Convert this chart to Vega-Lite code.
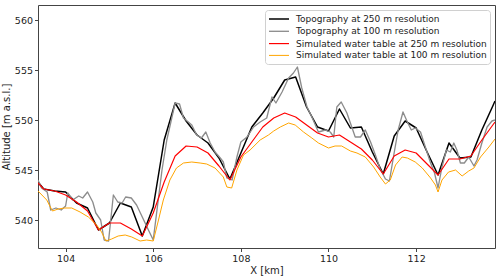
{
  "$schema": "https://vega.github.io/schema/vega-lite/v6.json",
  "width": 457,
  "height": 243,
  "autosize": {"type": "none"},
  "padding": {"left": 38, "top": 5, "right": 5, "bottom": 28},
  "background": "white",
  "config": {
    "font": "DejaVu Sans",
    "view": {"stroke": "#444", "strokeWidth": 1},
    "axis": {
      "grid": false,
      "domain": false,
      "tickColor": "#444",
      "tickSize": 3.5,
      "labelFontSize": 9.5,
      "labelColor": "#222",
      "titleFontSize": 10,
      "titleFontWeight": "normal",
      "titleColor": "#222",
      "labelPadding": 2
    }
  },
  "datasets": {
    "lines": [
      {"series": "Topography at 250 m resolution", "x": 103.37, "y": 543.8},
      {"series": "Topography at 250 m resolution", "x": 103.5, "y": 543.1},
      {"series": "Topography at 250 m resolution", "x": 103.75, "y": 542.9},
      {"series": "Topography at 250 m resolution", "x": 104.0, "y": 542.8},
      {"series": "Topography at 250 m resolution", "x": 104.25, "y": 541.7},
      {"series": "Topography at 250 m resolution", "x": 104.5, "y": 541.2},
      {"series": "Topography at 250 m resolution", "x": 104.75, "y": 539.0},
      {"series": "Topography at 250 m resolution", "x": 105.0, "y": 539.7},
      {"series": "Topography at 250 m resolution", "x": 105.25, "y": 541.7},
      {"series": "Topography at 250 m resolution", "x": 105.5, "y": 541.3},
      {"series": "Topography at 250 m resolution", "x": 105.75, "y": 538.4},
      {"series": "Topography at 250 m resolution", "x": 106.0, "y": 541.3},
      {"series": "Topography at 250 m resolution", "x": 106.25, "y": 548.0},
      {"series": "Topography at 250 m resolution", "x": 106.5, "y": 551.7},
      {"series": "Topography at 250 m resolution", "x": 106.75, "y": 549.9},
      {"series": "Topography at 250 m resolution", "x": 107.0, "y": 548.5},
      {"series": "Topography at 250 m resolution", "x": 107.25, "y": 547.7},
      {"series": "Topography at 250 m resolution", "x": 107.5, "y": 546.2},
      {"series": "Topography at 250 m resolution", "x": 107.75, "y": 544.1},
      {"series": "Topography at 250 m resolution", "x": 108.0, "y": 546.7},
      {"series": "Topography at 250 m resolution", "x": 108.25, "y": 549.3},
      {"series": "Topography at 250 m resolution", "x": 108.5, "y": 550.7},
      {"series": "Topography at 250 m resolution", "x": 108.75, "y": 552.2},
      {"series": "Topography at 250 m resolution", "x": 109.0, "y": 554.0},
      {"series": "Topography at 250 m resolution", "x": 109.25, "y": 554.3},
      {"series": "Topography at 250 m resolution", "x": 109.5, "y": 551.3},
      {"series": "Topography at 250 m resolution", "x": 109.75, "y": 549.3},
      {"series": "Topography at 250 m resolution", "x": 110.0, "y": 548.9},
      {"series": "Topography at 250 m resolution", "x": 110.25, "y": 551.1},
      {"series": "Topography at 250 m resolution", "x": 110.5, "y": 549.2},
      {"series": "Topography at 250 m resolution", "x": 110.75, "y": 549.3},
      {"series": "Topography at 250 m resolution", "x": 111.0, "y": 546.8},
      {"series": "Topography at 250 m resolution", "x": 111.25, "y": 544.6},
      {"series": "Topography at 250 m resolution", "x": 111.5, "y": 548.4},
      {"series": "Topography at 250 m resolution", "x": 111.75, "y": 549.9},
      {"series": "Topography at 250 m resolution", "x": 112.0, "y": 549.2},
      {"series": "Topography at 250 m resolution", "x": 112.25, "y": 546.8},
      {"series": "Topography at 250 m resolution", "x": 112.5, "y": 544.5},
      {"series": "Topography at 250 m resolution", "x": 112.75, "y": 547.7},
      {"series": "Topography at 250 m resolution", "x": 113.0, "y": 546.2},
      {"series": "Topography at 250 m resolution", "x": 113.25, "y": 546.3},
      {"series": "Topography at 250 m resolution", "x": 113.5, "y": 549.0},
      {"series": "Topography at 250 m resolution", "x": 113.75, "y": 551.4},
      {"series": "Topography at 250 m resolution", "x": 113.8, "y": 551.9},

      {"series": "Topography at 100 m resolution", "x": 103.37, "y": 544.0},
      {"series": "Topography at 100 m resolution", "x": 103.45, "y": 543.2},
      {"series": "Topography at 100 m resolution", "x": 103.58, "y": 542.8},
      {"series": "Topography at 100 m resolution", "x": 103.66, "y": 541.0},
      {"series": "Topography at 100 m resolution", "x": 103.78, "y": 541.2},
      {"series": "Topography at 100 m resolution", "x": 103.9, "y": 541.0},
      {"series": "Topography at 100 m resolution", "x": 104.0, "y": 541.4},
      {"series": "Topography at 100 m resolution", "x": 104.05, "y": 542.7},
      {"series": "Topography at 100 m resolution", "x": 104.16, "y": 542.0},
      {"series": "Topography at 100 m resolution", "x": 104.3, "y": 542.4},
      {"series": "Topography at 100 m resolution", "x": 104.39, "y": 542.2},
      {"series": "Topography at 100 m resolution", "x": 104.5, "y": 542.8},
      {"series": "Topography at 100 m resolution", "x": 104.62, "y": 541.8},
      {"series": "Topography at 100 m resolution", "x": 104.69, "y": 540.7},
      {"series": "Topography at 100 m resolution", "x": 104.8, "y": 540.0},
      {"series": "Topography at 100 m resolution", "x": 104.88, "y": 538.0},
      {"series": "Topography at 100 m resolution", "x": 104.98, "y": 537.9},
      {"series": "Topography at 100 m resolution", "x": 105.09, "y": 542.5},
      {"series": "Topography at 100 m resolution", "x": 105.19, "y": 541.8},
      {"series": "Topography at 100 m resolution", "x": 105.29, "y": 541.7},
      {"series": "Topography at 100 m resolution", "x": 105.37, "y": 542.3},
      {"series": "Topography at 100 m resolution", "x": 105.5, "y": 542.2},
      {"series": "Topography at 100 m resolution", "x": 105.62, "y": 541.5},
      {"series": "Topography at 100 m resolution", "x": 105.75, "y": 540.3},
      {"series": "Topography at 100 m resolution", "x": 105.89, "y": 539.0},
      {"series": "Topography at 100 m resolution", "x": 106.0, "y": 538.0},
      {"series": "Topography at 100 m resolution", "x": 106.1, "y": 541.5},
      {"series": "Topography at 100 m resolution", "x": 106.2, "y": 545.0},
      {"series": "Topography at 100 m resolution", "x": 106.31, "y": 548.0},
      {"series": "Topography at 100 m resolution", "x": 106.5, "y": 551.7},
      {"series": "Topography at 100 m resolution", "x": 106.6, "y": 551.6},
      {"series": "Topography at 100 m resolution", "x": 106.69, "y": 550.2},
      {"series": "Topography at 100 m resolution", "x": 106.8, "y": 549.8},
      {"series": "Topography at 100 m resolution", "x": 106.88, "y": 549.5},
      {"series": "Topography at 100 m resolution", "x": 106.99, "y": 548.5},
      {"series": "Topography at 100 m resolution", "x": 107.1, "y": 548.2},
      {"series": "Topography at 100 m resolution", "x": 107.2, "y": 548.8},
      {"series": "Topography at 100 m resolution", "x": 107.3, "y": 547.7},
      {"series": "Topography at 100 m resolution", "x": 107.41, "y": 546.8},
      {"series": "Topography at 100 m resolution", "x": 107.53, "y": 546.2},
      {"series": "Topography at 100 m resolution", "x": 107.6, "y": 545.8},
      {"series": "Topography at 100 m resolution", "x": 107.68, "y": 544.2},
      {"series": "Topography at 100 m resolution", "x": 107.8, "y": 544.0},
      {"series": "Topography at 100 m resolution", "x": 107.91, "y": 546.3},
      {"series": "Topography at 100 m resolution", "x": 108.0, "y": 547.8},
      {"series": "Topography at 100 m resolution", "x": 108.14, "y": 548.3},
      {"series": "Topography at 100 m resolution", "x": 108.29, "y": 549.3},
      {"series": "Topography at 100 m resolution", "x": 108.44, "y": 549.8},
      {"series": "Topography at 100 m resolution", "x": 108.59, "y": 550.2},
      {"series": "Topography at 100 m resolution", "x": 108.71, "y": 552.3},
      {"series": "Topography at 100 m resolution", "x": 108.8, "y": 551.7},
      {"series": "Topography at 100 m resolution", "x": 108.94, "y": 552.8},
      {"series": "Topography at 100 m resolution", "x": 109.09, "y": 554.2},
      {"series": "Topography at 100 m resolution", "x": 109.2, "y": 554.7},
      {"series": "Topography at 100 m resolution", "x": 109.29, "y": 555.3},
      {"series": "Topography at 100 m resolution", "x": 109.39, "y": 553.2},
      {"series": "Topography at 100 m resolution", "x": 109.51, "y": 551.3},
      {"series": "Topography at 100 m resolution", "x": 109.62, "y": 550.3},
      {"series": "Topography at 100 m resolution", "x": 109.77, "y": 548.8},
      {"series": "Topography at 100 m resolution", "x": 109.93, "y": 549.0},
      {"series": "Topography at 100 m resolution", "x": 110.04, "y": 548.8},
      {"series": "Topography at 100 m resolution", "x": 110.12, "y": 548.3},
      {"series": "Topography at 100 m resolution", "x": 110.19, "y": 551.3},
      {"series": "Topography at 100 m resolution", "x": 110.29, "y": 551.8},
      {"series": "Topography at 100 m resolution", "x": 110.42, "y": 550.7},
      {"series": "Topography at 100 m resolution", "x": 110.61, "y": 548.3},
      {"series": "Topography at 100 m resolution", "x": 110.73, "y": 548.3},
      {"series": "Topography at 100 m resolution", "x": 110.84, "y": 549.0},
      {"series": "Topography at 100 m resolution", "x": 110.96, "y": 547.8},
      {"series": "Topography at 100 m resolution", "x": 111.07, "y": 546.5},
      {"series": "Topography at 100 m resolution", "x": 111.18, "y": 545.1},
      {"series": "Topography at 100 m resolution", "x": 111.3, "y": 544.1},
      {"series": "Topography at 100 m resolution", "x": 111.39, "y": 543.9},
      {"series": "Topography at 100 m resolution", "x": 111.49, "y": 546.5},
      {"series": "Topography at 100 m resolution", "x": 111.59, "y": 549.0},
      {"series": "Topography at 100 m resolution", "x": 111.7, "y": 550.8},
      {"series": "Topography at 100 m resolution", "x": 111.8, "y": 549.8},
      {"series": "Topography at 100 m resolution", "x": 111.89, "y": 549.0},
      {"series": "Topography at 100 m resolution", "x": 111.98, "y": 549.2},
      {"series": "Topography at 100 m resolution", "x": 112.1, "y": 548.8},
      {"series": "Topography at 100 m resolution", "x": 112.21, "y": 547.3},
      {"series": "Topography at 100 m resolution", "x": 112.33, "y": 545.7},
      {"series": "Topography at 100 m resolution", "x": 112.42, "y": 544.7},
      {"series": "Topography at 100 m resolution", "x": 112.5, "y": 543.2},
      {"series": "Topography at 100 m resolution", "x": 112.59, "y": 545.3},
      {"series": "Topography at 100 m resolution", "x": 112.69, "y": 547.0},
      {"series": "Topography at 100 m resolution", "x": 112.78, "y": 546.8},
      {"series": "Topography at 100 m resolution", "x": 112.86, "y": 547.7},
      {"series": "Topography at 100 m resolution", "x": 112.93, "y": 547.0},
      {"series": "Topography at 100 m resolution", "x": 113.01, "y": 545.7},
      {"series": "Topography at 100 m resolution", "x": 113.1, "y": 545.7},
      {"series": "Topography at 100 m resolution", "x": 113.2, "y": 546.3},
      {"series": "Topography at 100 m resolution", "x": 113.32, "y": 545.4},
      {"series": "Topography at 100 m resolution", "x": 113.39, "y": 546.0},
      {"series": "Topography at 100 m resolution", "x": 113.5, "y": 547.7},
      {"series": "Topography at 100 m resolution", "x": 113.62, "y": 549.3},
      {"series": "Topography at 100 m resolution", "x": 113.73, "y": 549.9},
      {"series": "Topography at 100 m resolution", "x": 113.8, "y": 550.0},

      {"series": "Simulated water table at 250 m resolution", "x": 103.37, "y": 543.7},
      {"series": "Simulated water table at 250 m resolution", "x": 103.5, "y": 543.1},
      {"series": "Simulated water table at 250 m resolution", "x": 103.75, "y": 542.9},
      {"series": "Simulated water table at 250 m resolution", "x": 104.0, "y": 542.5},
      {"series": "Simulated water table at 250 m resolution", "x": 104.25, "y": 541.8},
      {"series": "Simulated water table at 250 m resolution", "x": 104.5, "y": 540.9},
      {"series": "Simulated water table at 250 m resolution", "x": 104.75, "y": 539.0},
      {"series": "Simulated water table at 250 m resolution", "x": 105.0, "y": 539.7},
      {"series": "Simulated water table at 250 m resolution", "x": 105.25, "y": 539.7},
      {"series": "Simulated water table at 250 m resolution", "x": 105.5, "y": 539.1},
      {"series": "Simulated water table at 250 m resolution", "x": 105.75, "y": 538.4},
      {"series": "Simulated water table at 250 m resolution", "x": 106.0, "y": 540.7},
      {"series": "Simulated water table at 250 m resolution", "x": 106.25, "y": 543.8},
      {"series": "Simulated water table at 250 m resolution", "x": 106.5, "y": 546.4},
      {"series": "Simulated water table at 250 m resolution", "x": 106.75, "y": 547.4},
      {"series": "Simulated water table at 250 m resolution", "x": 107.0, "y": 547.3},
      {"series": "Simulated water table at 250 m resolution", "x": 107.25, "y": 546.7},
      {"series": "Simulated water table at 250 m resolution", "x": 107.5, "y": 545.4},
      {"series": "Simulated water table at 250 m resolution", "x": 107.75, "y": 544.0},
      {"series": "Simulated water table at 250 m resolution", "x": 108.0, "y": 546.3},
      {"series": "Simulated water table at 250 m resolution", "x": 108.25, "y": 547.8},
      {"series": "Simulated water table at 250 m resolution", "x": 108.5, "y": 549.3},
      {"series": "Simulated water table at 250 m resolution", "x": 108.75, "y": 550.2},
      {"series": "Simulated water table at 250 m resolution", "x": 109.0, "y": 550.7},
      {"series": "Simulated water table at 250 m resolution", "x": 109.25, "y": 550.3},
      {"series": "Simulated water table at 250 m resolution", "x": 109.5, "y": 549.5},
      {"series": "Simulated water table at 250 m resolution", "x": 109.75, "y": 548.7},
      {"series": "Simulated water table at 250 m resolution", "x": 110.0, "y": 548.3},
      {"series": "Simulated water table at 250 m resolution", "x": 110.25, "y": 548.5},
      {"series": "Simulated water table at 250 m resolution", "x": 110.5, "y": 547.8},
      {"series": "Simulated water table at 250 m resolution", "x": 110.75, "y": 547.1},
      {"series": "Simulated water table at 250 m resolution", "x": 111.0, "y": 546.0},
      {"series": "Simulated water table at 250 m resolution", "x": 111.25, "y": 544.6},
      {"series": "Simulated water table at 250 m resolution", "x": 111.5, "y": 546.4},
      {"series": "Simulated water table at 250 m resolution", "x": 111.75, "y": 547.0},
      {"series": "Simulated water table at 250 m resolution", "x": 112.0, "y": 546.7},
      {"series": "Simulated water table at 250 m resolution", "x": 112.25, "y": 545.6},
      {"series": "Simulated water table at 250 m resolution", "x": 112.5, "y": 544.5},
      {"series": "Simulated water table at 250 m resolution", "x": 112.75, "y": 546.1},
      {"series": "Simulated water table at 250 m resolution", "x": 113.0, "y": 546.1},
      {"series": "Simulated water table at 250 m resolution", "x": 113.25, "y": 546.4},
      {"series": "Simulated water table at 250 m resolution", "x": 113.5, "y": 548.0},
      {"series": "Simulated water table at 250 m resolution", "x": 113.75, "y": 549.5},
      {"series": "Simulated water table at 250 m resolution", "x": 113.8, "y": 549.8},

      {"series": "Simulated water table at 100 m resolution", "x": 103.37, "y": 542.9},
      {"series": "Simulated water table at 100 m resolution", "x": 103.57, "y": 542.0},
      {"series": "Simulated water table at 100 m resolution", "x": 103.7, "y": 540.9},
      {"series": "Simulated water table at 100 m resolution", "x": 103.83, "y": 541.1},
      {"series": "Simulated water table at 100 m resolution", "x": 103.98, "y": 541.2},
      {"series": "Simulated water table at 100 m resolution", "x": 104.14, "y": 541.2},
      {"series": "Simulated water table at 100 m resolution", "x": 104.33, "y": 540.8},
      {"series": "Simulated water table at 100 m resolution", "x": 104.52, "y": 540.3},
      {"series": "Simulated water table at 100 m resolution", "x": 104.71, "y": 539.5},
      {"series": "Simulated water table at 100 m resolution", "x": 104.82, "y": 538.8},
      {"series": "Simulated water table at 100 m resolution", "x": 104.92, "y": 537.9},
      {"series": "Simulated water table at 100 m resolution", "x": 105.05, "y": 538.1},
      {"series": "Simulated water table at 100 m resolution", "x": 105.2, "y": 538.4},
      {"series": "Simulated water table at 100 m resolution", "x": 105.36, "y": 538.5},
      {"series": "Simulated water table at 100 m resolution", "x": 105.51, "y": 538.3},
      {"series": "Simulated water table at 100 m resolution", "x": 105.7, "y": 537.9},
      {"series": "Simulated water table at 100 m resolution", "x": 105.85, "y": 538.0},
      {"series": "Simulated water table at 100 m resolution", "x": 106.0, "y": 537.9},
      {"series": "Simulated water table at 100 m resolution", "x": 106.12, "y": 540.0},
      {"series": "Simulated water table at 100 m resolution", "x": 106.23, "y": 542.0},
      {"series": "Simulated water table at 100 m resolution", "x": 106.38, "y": 544.0},
      {"series": "Simulated water table at 100 m resolution", "x": 106.53, "y": 545.2},
      {"series": "Simulated water table at 100 m resolution", "x": 106.69, "y": 545.7},
      {"series": "Simulated water table at 100 m resolution", "x": 106.88, "y": 545.8},
      {"series": "Simulated water table at 100 m resolution", "x": 107.07, "y": 545.7},
      {"series": "Simulated water table at 100 m resolution", "x": 107.22, "y": 545.6},
      {"series": "Simulated water table at 100 m resolution", "x": 107.41, "y": 545.2},
      {"series": "Simulated water table at 100 m resolution", "x": 107.6, "y": 544.3},
      {"series": "Simulated water table at 100 m resolution", "x": 107.68, "y": 543.3},
      {"series": "Simulated water table at 100 m resolution", "x": 107.79, "y": 543.2},
      {"series": "Simulated water table at 100 m resolution", "x": 107.91, "y": 545.0},
      {"series": "Simulated water table at 100 m resolution", "x": 108.06, "y": 546.5},
      {"series": "Simulated water table at 100 m resolution", "x": 108.21, "y": 547.0},
      {"series": "Simulated water table at 100 m resolution", "x": 108.44, "y": 548.0},
      {"series": "Simulated water table at 100 m resolution", "x": 108.63, "y": 548.5},
      {"series": "Simulated water table at 100 m resolution", "x": 108.75, "y": 548.9},
      {"series": "Simulated water table at 100 m resolution", "x": 108.9, "y": 549.3},
      {"series": "Simulated water table at 100 m resolution", "x": 109.09, "y": 549.7},
      {"series": "Simulated water table at 100 m resolution", "x": 109.24, "y": 549.5},
      {"series": "Simulated water table at 100 m resolution", "x": 109.43, "y": 548.8},
      {"series": "Simulated water table at 100 m resolution", "x": 109.62, "y": 548.2},
      {"series": "Simulated water table at 100 m resolution", "x": 109.77, "y": 547.7},
      {"series": "Simulated water table at 100 m resolution", "x": 110.0, "y": 547.2},
      {"series": "Simulated water table at 100 m resolution", "x": 110.15, "y": 547.4},
      {"series": "Simulated water table at 100 m resolution", "x": 110.3, "y": 547.4},
      {"series": "Simulated water table at 100 m resolution", "x": 110.5, "y": 546.9},
      {"series": "Simulated water table at 100 m resolution", "x": 110.65, "y": 546.7},
      {"series": "Simulated water table at 100 m resolution", "x": 110.84, "y": 546.3},
      {"series": "Simulated water table at 100 m resolution", "x": 111.03, "y": 545.3},
      {"series": "Simulated water table at 100 m resolution", "x": 111.18, "y": 544.3},
      {"series": "Simulated water table at 100 m resolution", "x": 111.3, "y": 543.6},
      {"series": "Simulated water table at 100 m resolution", "x": 111.41, "y": 544.0},
      {"series": "Simulated water table at 100 m resolution", "x": 111.53, "y": 545.5},
      {"series": "Simulated water table at 100 m resolution", "x": 111.68, "y": 546.3},
      {"series": "Simulated water table at 100 m resolution", "x": 111.8, "y": 546.2},
      {"series": "Simulated water table at 100 m resolution", "x": 111.98, "y": 545.8},
      {"series": "Simulated water table at 100 m resolution", "x": 112.14, "y": 545.2},
      {"series": "Simulated water table at 100 m resolution", "x": 112.33, "y": 544.2},
      {"series": "Simulated water table at 100 m resolution", "x": 112.44, "y": 543.5},
      {"series": "Simulated water table at 100 m resolution", "x": 112.5, "y": 542.8},
      {"series": "Simulated water table at 100 m resolution", "x": 112.59, "y": 544.0},
      {"series": "Simulated water table at 100 m resolution", "x": 112.74, "y": 544.8},
      {"series": "Simulated water table at 100 m resolution", "x": 112.9, "y": 545.0},
      {"series": "Simulated water table at 100 m resolution", "x": 113.05, "y": 544.4},
      {"series": "Simulated water table at 100 m resolution", "x": 113.2, "y": 544.9},
      {"series": "Simulated water table at 100 m resolution", "x": 113.32, "y": 545.2},
      {"series": "Simulated water table at 100 m resolution", "x": 113.47, "y": 546.3},
      {"series": "Simulated water table at 100 m resolution", "x": 113.66, "y": 547.3},
      {"series": "Simulated water table at 100 m resolution", "x": 113.8, "y": 548.1}
    ]
  },
  "data": {"name": "lines"},
  "mark": {"type": "line", "clip": true, "strokeJoin": "round"},
  "encoding": {
    "x": {
      "field": "x",
      "type": "quantitative",
      "title": "X [km]",
      "scale": {"domain": [103.37, 113.8], "nice": false, "zero": false},
      "axis": {"values": [104, 106, 108, 110, 112], "titlePadding": 2}
    },
    "y": {
      "field": "y",
      "type": "quantitative",
      "title": "Altitude [m a.s.l.]",
      "scale": {"domain": [537.2, 561.5], "nice": false, "zero": false},
      "axis": {"values": [540, 545, 550, 555, 560], "titlePadding": 3}
    },
    "color": {
      "field": "series",
      "type": "nominal",
      "scale": {
        "domain": ["Topography at 250 m resolution", "Topography at 100 m resolution", "Simulated water table at 250 m resolution", "Simulated water table at 100 m resolution"],
        "range": ["#000000", "#8c8c8c", "#ff0000", "#ffa500"]
      },
      "legend": {
        "title": null,
        "orient": "top-right",
        "offset": 5,
        "symbolType": "M-1,0H3",
        "symbolSize": 100,
        "symbolStrokeWidth": 1.5,
        "labelFontSize": 9,
        "labelColor": "#222",
        "labelLimit": 0,
        "labelOffset": 16,
        "rowPadding": 1.3,
        "padding": 3,
        "strokeColor": "#d0d0d0",
        "fillColor": "white",
        "cornerRadius": 3
      }
    },
    "strokeWidth": {
      "field": "series",
      "type": "nominal",
      "scale": {
        "domain": ["Topography at 250 m resolution", "Topography at 100 m resolution", "Simulated water table at 250 m resolution", "Simulated water table at 100 m resolution"],
        "range": [1.5, 1.0, 1.5, 1.2]
      },
      "legend": null
    },
    "order": {"field": "x", "type": "quantitative"}
  }
}
